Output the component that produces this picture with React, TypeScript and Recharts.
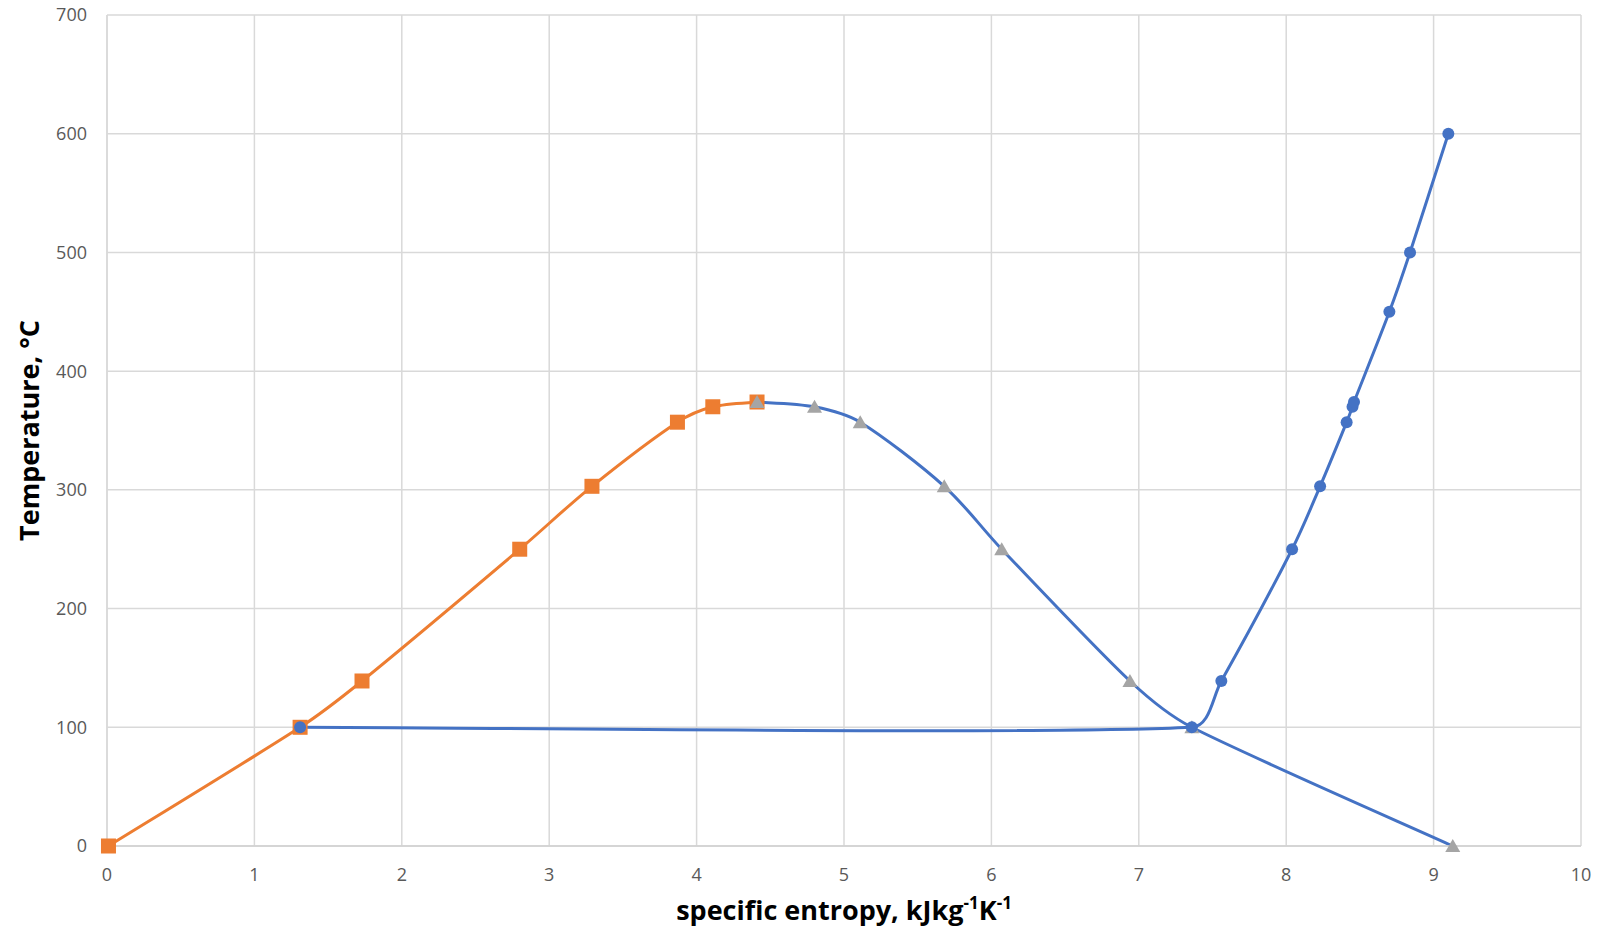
import React from 'react';
import { ComposedChart, Line, XAxis, YAxis, CartesianGrid } from 'recharts';

// saturated liquid line (orange squares)
const liquidS = [0.01, 1.31, 1.73, 2.8, 3.29, 3.87, 4.11, 4.41];
const liquidT = [0, 100, 139, 250, 303, 357, 370, 374];

// saturated vapour line (grey triangles)
const vapourS = [4.41, 4.8, 5.11, 5.68, 6.07, 6.94, 7.36, 9.13];
const vapourT = [374, 370, 357, 303, 250, 139, 100, 0];

// 1 bar process line (blue circles)
const isobarS = [1.31, 7.36, 7.56, 8.04, 8.23, 8.41, 8.45, 8.46, 8.7, 8.84, 9.1];
const isobarT = [100, 100, 139, 250, 303, 357, 370, 374, 450, 500, 600];

const xTicks = [0, 1, 2, 3, 4, 5, 6, 7, 8, 9, 10];
const yTicks = [0, 100, 200, 300, 400, 500, 600, 700];

const toRows = (s: number[], t: number[]) => s.map((v, i) => ({ s: v, t: t[i] }));

const liquid = toRows(liquidS, liquidT);
const vapour = toRows(vapourS, vapourT);
const isobar = toRows(isobarS, isobarT);

const BLUE = '#4472C4';
const ORANGE = '#ED7D31';
const GREY = '#A5A5A5';
const FONT = '"Open Sans", sans-serif';

// Excel-like smoothing: Catmull-Rom tangents, capped at a third of the segment length
const excelSmooth = (context: any) => {
  let pts: number[][] = [];
  const ctrl = (from: number[], a: number[], b: number[], seg: number, sign: number) => {
    const dx = b[0] - a[0];
    const dy = b[1] - a[1];
    const len = Math.hypot(dx, dy) || 1;
    const d = Math.min(len / 6, seg / 3);
    return [from[0] + (sign * dx * d) / len, from[1] + (sign * dy * d) / len];
  };
  return {
    areaStart() {},
    areaEnd() {},
    lineStart() {
      pts = [];
    },
    lineEnd() {
      if (!pts.length) return;
      context.moveTo(pts[0][0], pts[0][1]);
      for (let i = 0; i < pts.length - 1; i++) {
        const p0 = pts[i - 1] || pts[i];
        const p1 = pts[i];
        const p2 = pts[i + 1];
        const p3 = pts[i + 2] || p2;
        const seg = Math.hypot(p2[0] - p1[0], p2[1] - p1[1]);
        const c1 = ctrl(p1, p0, p2, seg, 1);
        const c2 = ctrl(p2, p1, p3, seg, -1);
        context.bezierCurveTo(c1[0], c1[1], c2[0], c2[1], p2[0], p2[1]);
      }
    },
    point(x: number, y: number) {
      pts.push([+x, +y]);
    },
  };
};

const squareDot = (p: any) => (
  <rect key={`sq-${p.index}`} x={p.cx - 7.5} y={p.cy - 7.5} width={15} height={15} fill={ORANGE} />
);

const triangleDot = (p: any) => (
  <path
    key={`tr-${p.index}`}
    d={`M${p.cx},${p.cy - 7} L${p.cx + 7.5},${p.cy + 6} L${p.cx - 7.5},${p.cy + 6} Z`}
    fill={GREY}
  />
);

const circleDot = (p: any) => <circle key={`ci-${p.index}`} cx={p.cx} cy={p.cy} r={6} fill={BLUE} />;

const XTitle = (props: any) => {
  const { x, y, width } = props.viewBox;
  return (
    <text
      x={x + width / 2}
      y={y + 74}
      textAnchor="middle"
      fontFamily={FONT}
      fontWeight={700}
      fontSize={27}
      fill="#000"
    >
      specific entropy, kJkg
      <tspan fontSize={17} dy={-11}>-1</tspan>
      <tspan dy={11}>K</tspan>
      <tspan fontSize={17} dy={-11}>-1</tspan>
    </text>
  );
};

const YTitle = (props: any) => {
  const { x, y, height } = props.viewBox;
  const cx = x - 17;
  const cy = y + height / 2;
  return (
    <text
      x={cx}
      y={cy}
      dy="0.35em"
      transform={`rotate(-90 ${cx} ${cy})`}
      textAnchor="middle"
      fontFamily={FONT}
      fontWeight={700}
      fontSize={27}
      fill="#000"
    >
      Temperature, °C
    </text>
  );
};

export default function App() {
  return (
    <div style={{ margin: '-8px 0 0 -8px', width: 1601, height: 936 }}>
      <ComposedChart width={1601} height={936} margin={{ top: 15, right: 20, bottom: 8, left: 47 }}>
        <CartesianGrid stroke="#D9D9D9" strokeWidth={1.5} />
        <XAxis
          type="number"
          dataKey="s"
          domain={[0, 10]}
          ticks={xTicks}
          height={82}
          tickSize={0}
          tickMargin={22}
          axisLine={{ stroke: '#D0D0D0', strokeWidth: 1.5 }}
          tick={{ fill: '#595959', fontSize: 18, fontFamily: FONT }}
          label={<XTitle />}
        />
        <YAxis
          type="number"
          dataKey="t"
          domain={[0, 700]}
          ticks={yTicks}
          width={60}
          tickSize={0}
          tickMargin={20}
          axisLine={{ stroke: '#D9D9D9', strokeWidth: 1.5 }}
          tick={{ fill: '#595959', fontSize: 18, fontFamily: FONT }}
          label={<YTitle />}
        />
        <Line
          data={liquid}
          dataKey="t"
          type={excelSmooth as any}
          stroke={ORANGE}
          strokeWidth={3}
          dot={squareDot}
          activeDot={false}
          isAnimationActive={false}
        />
        <Line
          data={vapour}
          dataKey="t"
          type={excelSmooth as any}
          stroke={BLUE}
          strokeWidth={3}
          dot={triangleDot}
          activeDot={false}
          isAnimationActive={false}
        />
        <Line
          data={isobar}
          dataKey="t"
          type={excelSmooth as any}
          stroke={BLUE}
          strokeWidth={3}
          dot={circleDot}
          activeDot={false}
          isAnimationActive={false}
        />
      </ComposedChart>
    </div>
  );
}
